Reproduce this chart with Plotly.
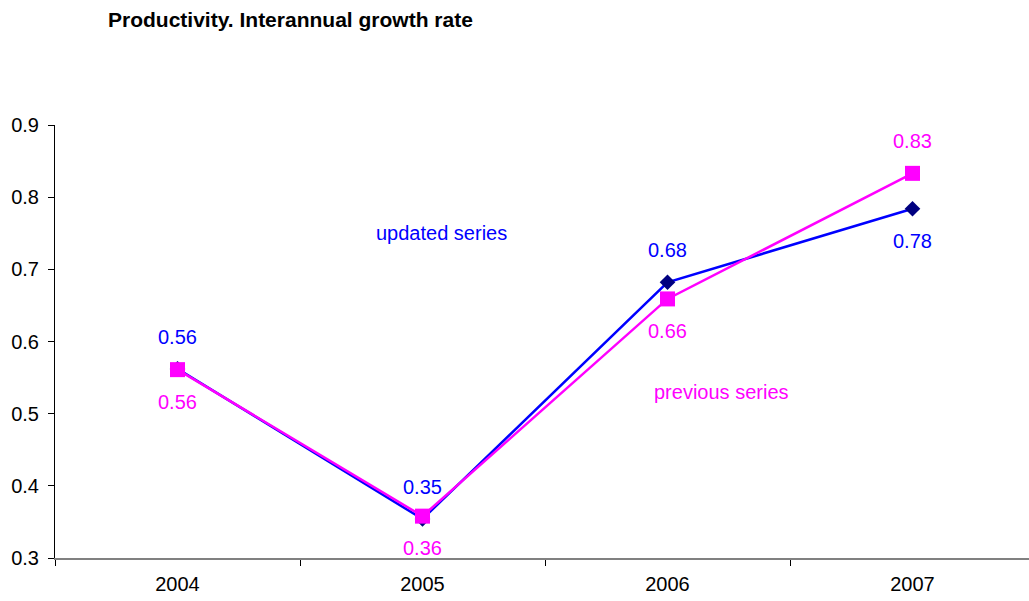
import plotly.graph_objects as go

years = ["2004", "2005", "2006", "2007"]
updated = [0.562, 0.354, 0.682, 0.784]
previous = [0.561, 0.358, 0.659, 0.833]
y_ticks = [0.3, 0.4, 0.5, 0.6, 0.7, 0.8, 0.9]
title_text = "Productivity. Interannual growth rate"

# label placement: +1 above, -1 below
updated_side = [1, 1, 1, -1]
previous_side = [-1, -1, -1, 1]

BLUE = "#0000FF"
NAVY = "#000080"
MAG = "#FF00FF"
FONT = "Liberation Sans, Arial, sans-serif"
FS = 20

fig = go.Figure()
fig.add_trace(go.Scatter(
    x=years, y=updated, mode="lines+markers", name="updated series",
    line=dict(color=BLUE, width=2.5),
    marker=dict(symbol="diamond", size=12, color=NAVY),
))
fig.add_trace(go.Scatter(
    x=years, y=previous, mode="lines+markers", name="previous series",
    line=dict(color=MAG, width=2.5),
    marker=dict(symbol="square", size=15, color=MAG),
))

annotations = []
for ys, sides, col in [(updated, updated_side, BLUE),
                       (previous, previous_side, MAG)]:
    for i, (y, s) in enumerate(zip(ys, sides)):
        annotations.append(dict(
            x=i, y=y, xref="x", yref="y", text=f"{y:.2f}", showarrow=False,
            yshift=32 * s, font=dict(family=FONT, size=FS, color=col),
        ))

annotations.append(dict(x=1.0755, y=0.750, xref="x", yref="y", text="updated series",
                        showarrow=False, font=dict(family=FONT, size=FS, color=BLUE)))
annotations.append(dict(x=2.2224, y=0.530, xref="x", yref="y", text="previous series",
                        showarrow=False, font=dict(family=FONT, size=FS, color=MAG)))

fig.update_layout(
    width=1029, height=601,
    margin=dict(l=55, r=0, t=125, b=43),
    paper_bgcolor="white", plot_bgcolor="white",
    showlegend=False,
    font=dict(family=FONT, size=FS, color="black"),
    annotations=annotations,
    title=dict(text=f"<b>{title_text}</b>", x=108 / 1029, xref="container", xanchor="left",
               y=1 - 20 / 601, yref="container", yanchor="middle",
               font=dict(family=FONT, size=21, color="black")),
)
fig.update_xaxes(
    type="category", range=[-0.5, 3.4755], tickson="boundaries",
    ticks="outside", ticklen=6, tickcolor="black", tickwidth=1,
    showline=True, linecolor="#808080", linewidth=2,
    showgrid=False, zeroline=False, ticklabelstandoff=7,
    tickfont=dict(family=FONT, size=FS, color="black"),
)
fig.update_yaxes(
    range=[0.3, 0.9], tickvals=y_ticks, tickformat=".1f",
    ticks="outside", ticklen=6, tickcolor="black",
    showline=True, linecolor="black", linewidth=1,
    showgrid=False, zeroline=False, ticklabelstandoff=5,
    tickfont=dict(family=FONT, size=FS, color="black"),
)

fig.write_html("out.html")
